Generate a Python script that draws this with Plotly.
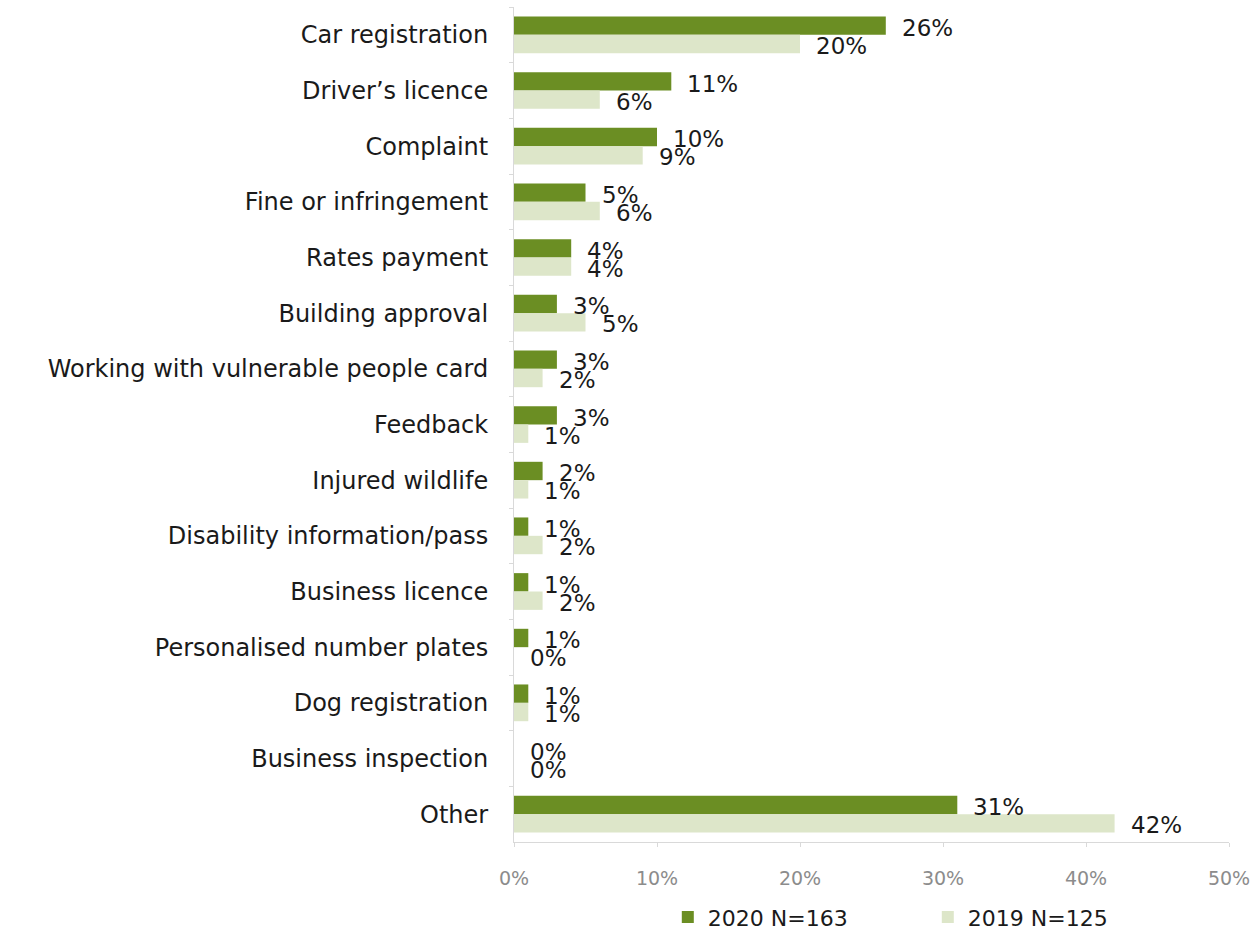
import plotly.graph_objects as go

categories = [
    "Car registration", "Driver’s licence", "Complaint", "Fine or infringement",
    "Rates payment", "Building approval", "Working with vulnerable people card",
    "Feedback", "Injured wildlife", "Disability information/pass",
    "Business licence", "Personalised number plates", "Dog registration",
    "Business inspection", "Other",
]
values_2020 = [26, 11, 10, 5, 4, 3, 3, 3, 2, 1, 1, 1, 1, 0, 31]
values_2019 = [20, 6, 9, 6, 4, 5, 2, 1, 1, 2, 2, 0, 1, 0, 42]
series_names = ["2020 N=163", "2019 N=125"]
x_ticks = [0, 10, 20, 30, 40, 50]

FONT = "DejaVu Sans"
DARK = "#6b8e23"
LIGHT = "#dde6c9"

fig = go.Figure()
for name, vals, color in [(series_names[0], values_2020, DARK),
                          (series_names[1], values_2019, LIGHT)]:
    fig.add_trace(go.Bar(
        y=categories, x=vals, name=name, orientation="h",
        marker=dict(color=color, line=dict(width=0)),
        hoverinfo="x+y",
    ))

# value labels placed just past the end of each bar
for vals, shift in [(values_2020, -9), (values_2019, 9)]:
    for cat, v in zip(categories, vals):
        fig.add_annotation(
            x=v, y=cat, text=f"{v}%", showarrow=False,
            xanchor="left", yanchor="middle", xshift=14, yshift=-shift - 2,
            font=dict(family=FONT, size=23, color="#1a1a1a"),
        )

fig.update_layout(
    barmode="group",
    bargap=0.34,
    bargroupgap=0.0,
    width=1260, height=934,
    margin=dict(l=514, r=31, t=7, b=92),
    paper_bgcolor="white", plot_bgcolor="white",
    font=dict(family=FONT, size=23, color="#1a1a1a"),
    showlegend=True,
    legend=dict(
        orientation="h",
        xref="container", x=0.530, xanchor="left",
        yref="container", y=0.018, yanchor="middle",
        font=dict(family=FONT, size=22, color="#1a1a1a"),
        entrywidth=215, traceorder="normal",
    ),
    xaxis=dict(
        range=[0, 50], tickvals=x_ticks, ticktext=[f"{t}%" for t in x_ticks],
        showgrid=False, zeroline=False,
        showline=True, linecolor="#d9d9d9", linewidth=1,
        ticks="outside", ticklen=4, tickcolor="#d9d9d9",
        tickfont=dict(family=FONT, size=19, color="#8c8c8c"),
        ticklabelstandoff=15,
    ),
    yaxis=dict(
        autorange="reversed", showgrid=False, zeroline=False,
        showline=True, linecolor="#d9d9d9", linewidth=1,
        ticks="outside", ticklen=4, tickcolor="#d9d9d9", tickson="boundaries",
        tickfont=dict(family=FONT, size=24, color="#1a1a1a"),
        ticklabelstandoff=20,
    ),
)

fig.write_html("out.html")
